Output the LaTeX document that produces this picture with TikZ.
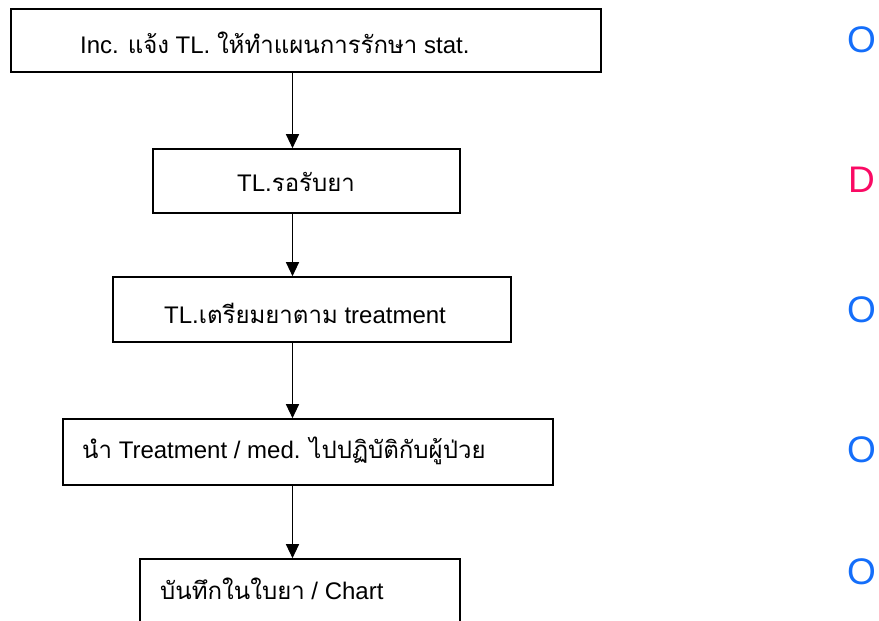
\documentclass[tikz,border=0pt]{standalone}
\usepackage{fontspec}
\setmainfont{Liberation Sans}
\newfontfamily\thaifont[Script=Thai]{Loma}
\usetikzlibrary{arrows.meta}
\definecolor{oblue}{RGB}{20,110,250}
\definecolor{dred}{RGB}{250,10,100}
\newcommand{\thx}[1]{{\thaifont #1}}
\tikzset{
  x=1pt,y=-1pt,
  box/.style={draw=black,line width=1.6pt,rectangle,inner sep=0pt},
  lbl/.style={anchor=base west,inner sep=0pt,font=\fontsize{24}{28}\selectfont},
  mark letter/.style={inner sep=0pt,font=\fontsize{37}{42}\selectfont},
  conn/.style={draw=black,line width=1.2pt,-{Triangle[width=13pt,length=14pt]}}
}
\begin{document}
\begin{tikzpicture}
\useasboundingbox (0,0) rectangle (879,621);
\clip (0,0) rectangle (879,621);
\node[box,minimum width=590pt,minimum height=63pt] (b1) at (306,40.5) {};
\node[box,minimum width=307pt,minimum height=64pt] (b2) at (306.5,181) {};
\node[box,minimum width=398pt,minimum height=65pt] (b3) at (312,309.5) {};
\node[box,minimum width=490pt,minimum height=66pt] (b4) at (308,452) {};
\node[box,minimum width=320pt,minimum height=100pt] (b5) at (300,609) {};
\node[lbl] (t1) at (80,53) {Inc. \thx{แจ้ง} TL. \thx{ให้ทำแผนการรักษา} stat.};
\node[lbl] (t2) at (237,191) {TL.\thx{รอรับยา}};
\node[lbl] (t3) at (164,323) {TL.\thx{เตรียมยาตาม} treatment};
\node[lbl] (t4) at (82,458) {\thx{นำ} Treatment / med. \thx{ไปปฏิบัติกับผู้ป่วย}};
\node[lbl] (t5) at (160,599) {\thx{บันทึกในใบยา} / Chart};
\coordinate (a1s) at (292.5,72);
\coordinate (a1e) at (292.5,149);
\coordinate (a2s) at (292.5,213);
\coordinate (a2e) at (292.5,277);
\coordinate (a3s) at (292.5,342);
\coordinate (a3e) at (292.5,419);
\coordinate (a4s) at (292.5,485);
\coordinate (a4e) at (292.5,559);
\draw[conn] (b1.south -| a1s) -- (b2.north -| a1e);
\draw[conn] (b2.south -| a2s) -- (b3.north -| a2e);
\draw[conn] (b3.south -| a3s) -- (b4.north -| a3e);
\draw[conn] (b4.south -| a4s) -- (b5.north -| a4e);
\node[mark letter,text=oblue] (m1) at (861.5,40) {O};
\node[mark letter,text=dred] (m2) at (861.5,180) {D};
\node[mark letter,text=oblue] (m3) at (861.5,310) {O};
\node[mark letter,text=oblue] (m4) at (861.5,450) {O};
\node[mark letter,text=oblue] (m5) at (861.5,572) {O};
\end{tikzpicture}
\end{document}
